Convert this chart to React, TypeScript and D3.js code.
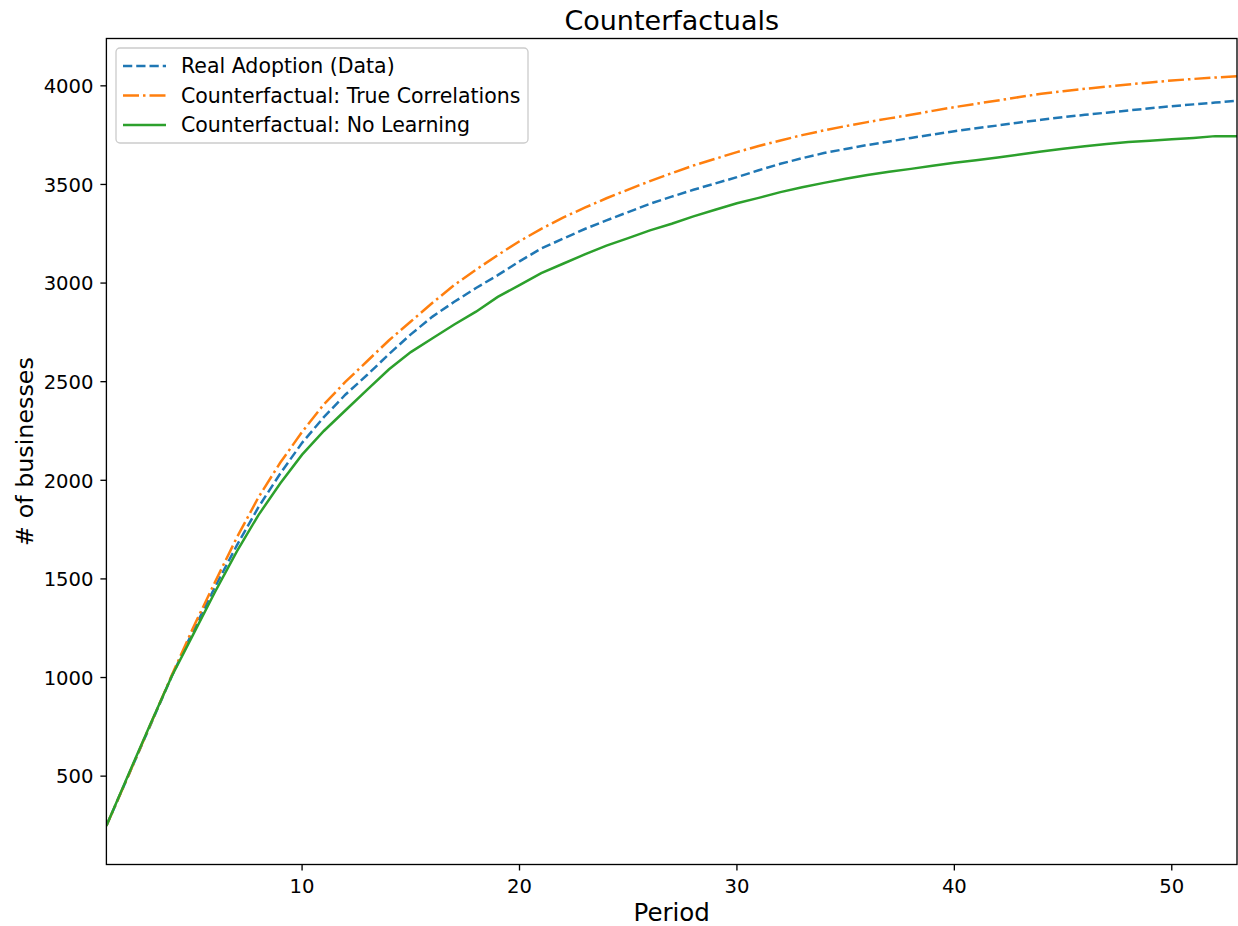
import React from "react";
import * as d3 from "d3";

const periods = d3.range(1, 54);

const realAdoption = [
  248, 500, 752, 1005, 1240, 1460, 1670, 1865, 2035, 2190,
  2320, 2435, 2535, 2640, 2740, 2830, 2905, 2975, 3040, 3110,
  3175, 3225, 3274, 3318, 3360, 3402, 3438, 3473, 3505, 3537,
  3572, 3605, 3633, 3659, 3680, 3700, 3718, 3736, 3753, 3770,
  3785, 3799, 3814, 3828, 3841, 3853, 3864, 3875, 3886, 3897,
  3906, 3915, 3924,
];

const trueCorrelations = [
  248, 500, 755, 1010, 1255, 1485, 1710, 1915, 2090, 2245,
  2385, 2500, 2605, 2710, 2805, 2900, 2990, 3068, 3142, 3212,
  3275, 3332, 3382, 3430, 3474, 3517, 3557, 3596, 3630, 3664,
  3695, 3723, 3750, 3774, 3796, 3816, 3835, 3853, 3873, 3892,
  3909, 3926, 3943, 3960, 3973, 3985, 3996, 4007, 4017, 4027,
  4035, 4042, 4049,
];

const noLearning = [
  248, 505, 758, 1005, 1220, 1435, 1640, 1825, 1985, 2130,
  2250, 2355, 2460, 2563, 2650, 2720, 2790, 2855, 2930, 2990,
  3050, 3098, 3145, 3190, 3228, 3267, 3301, 3338, 3372, 3405,
  3432, 3461, 3486, 3508, 3529, 3548, 3564, 3579, 3595, 3610,
  3623, 3637, 3652, 3667, 3681, 3694, 3705, 3715, 3722, 3729,
  3736, 3745, 3745,
];

const xTicks = [10, 20, 30, 40, 50];
const yTicks = [500, 1000, 1500, 2000, 2500, 3000, 3500, 4000];

const seriesNames = [
  "Real Adoption (Data)",
  "Counterfactual: True Correlations",
  "Counterfactual: No Learning",
];
const seriesColors = ["#1f77b4", "#ff7f0e", "#2ca02c"];
const seriesDashes = ["9.25,4", "16,4,2.5,4", undefined];

const W = 1238;
const H = 926;
const L = 106.4;
const R = 1237;
const T = 38.5;
const B = 864.5;
const FONT = "DejaVu Sans, sans-serif";

export default function App() {
  const x = d3.scaleLinear().domain([1, 53]).range([L, R]);
  const y = d3.scaleLinear().domain([52, 4240]).range([B, T]);
  const line = d3
    .line<number>()
    .x((_, i) => x(periods[i]))
    .y((d) => y(d));
  const series = [realAdoption, trueCorrelations, noLearning];

  return (
    <svg
      width={W}
      height={H}
      style={{ position: "absolute", left: 0, top: 0, background: "#fff" }}
      fontFamily={FONT}
    >
      <rect x={0} y={0} width={W} height={H} fill="#fff" />
      <defs>
        <clipPath id="plotclip">
          <rect x={L} y={T} width={R - L} height={B - T} />
        </clipPath>
      </defs>
      <g clipPath="url(#plotclip)">
        {series.map((s, i) => (
          <path
            key={i}
            d={line(s) || ""}
            fill="none"
            stroke={seriesColors[i]}
            strokeWidth={2.5}
            strokeDasharray={seriesDashes[i]}
          />
        ))}
      </g>
      {/* axes frame */}
      <rect x={L} y={T} width={R - L} height={B - T} fill="none" stroke="#000" strokeWidth={1.33} />
      {/* x ticks */}
      {xTicks.map((t) => (
        <g key={"x" + t}>
          <line x1={x(t)} x2={x(t)} y1={B} y2={B + 6} stroke="#000" strokeWidth={1.33} />
          <text x={x(t)} y={893} textAnchor="middle" fontSize={19.6} fill="#000">
            {t}
          </text>
        </g>
      ))}
      {/* y ticks */}
      {yTicks.map((t) => (
        <g key={"y" + t}>
          <line x1={L - 6} x2={L} y1={y(t)} y2={y(t)} stroke="#000" strokeWidth={1.33} />
          <text x={93.5} y={y(t) + 7.3} textAnchor="end" fontSize={19.6} fill="#000">
            {t}
          </text>
        </g>
      ))}
      {/* title */}
      <text x={(L + R) / 2} y={29.5} textAnchor="middle" fontSize={27} fill="#000">
        Counterfactuals
      </text>
      {/* axis labels */}
      <text x={(L + R) / 2} y={921} textAnchor="middle" fontSize={24.5} fill="#000">
        Period
      </text>
      <text
        transform={`translate(33, ${(T + B) / 2}) rotate(-90)`}
        textAnchor="middle"
        fontSize={23.8}
        fill="#000"
      >
        # of businesses
      </text>
      {/* legend */}
      <rect x={116} y={48} width={412} height={95} rx={4} ry={4} fill="#fff" fillOpacity={0.8} stroke="#cccccc" strokeWidth={1.33} />
      {seriesNames.map((n, i) => {
        const cy = 66 + i * 29.5;
        return (
          <g key={n}>
            <line
              x1={123}
              x2={166}
              y1={cy}
              y2={cy}
              stroke={seriesColors[i]}
              strokeWidth={2.5}
              strokeDasharray={seriesDashes[i]}
            />
            <text x={181} y={cy + 7.3} fontSize={20.5} fill="#000">
              {n}
            </text>
          </g>
        );
      })}
    </svg>
  );
}
